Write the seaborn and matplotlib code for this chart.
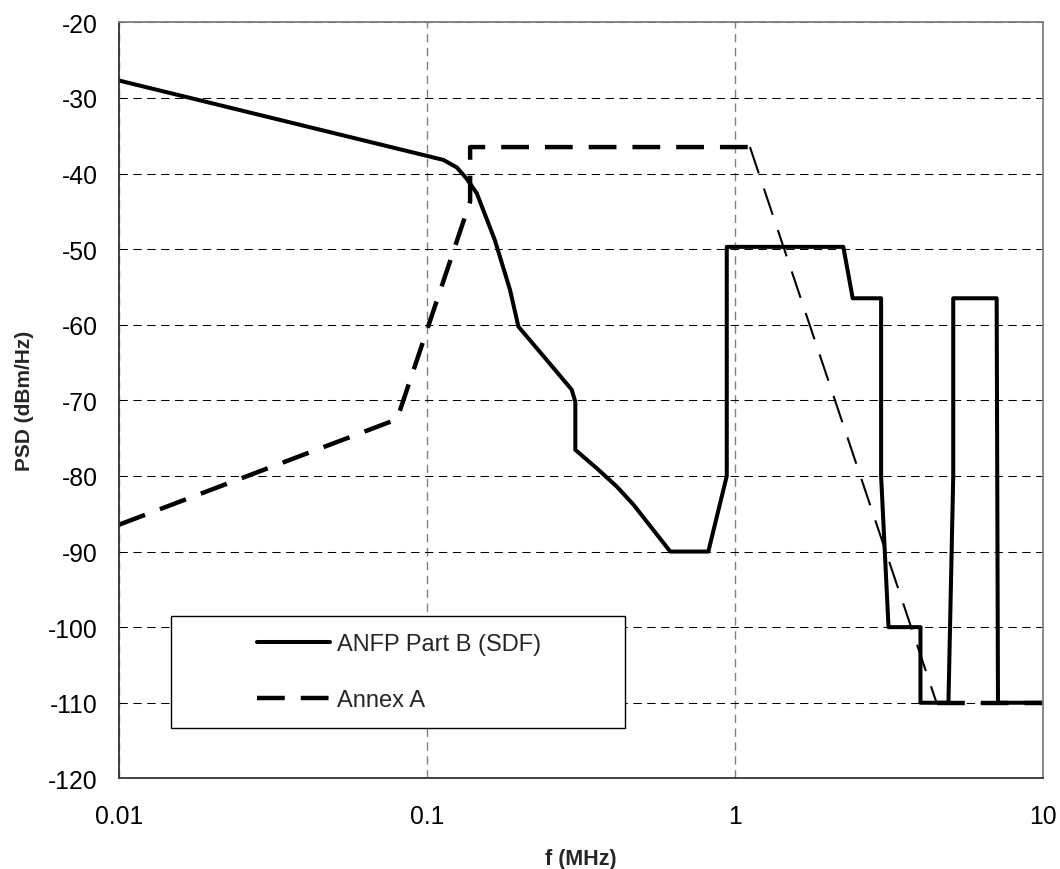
import matplotlib
matplotlib.use("Agg")
import matplotlib.pyplot as plt
from matplotlib.patches import Rectangle
from matplotlib.lines import Line2D
import seaborn as sns

# ANFP Part B (SDF) mask
anfp_f = [0.01, 0.113, 0.125, 0.1346, 0.145, 0.166, 0.186, 0.198, 0.2416, 0.295,
          0.303, 0.303, 0.356, 0.413, 0.468, 0.616, 0.819, 0.94, 0.94, 2.247,
          2.41, 2.98, 2.98, 3.15, 4.0, 4.0, 4.93, 5.11, 5.11, 7.07, 7.14, 10]
anfp_psd = [-27.7, -38.2, -39.2, -40.7, -42.6, -48.8, -55.4, -60.25, -64.4, -68.6,
            -70.2, -76.55, -79.0, -81.4, -83.8, -90, -90, -80, -49.7, -49.7,
            -56.5, -56.5, -80, -100, -100, -110, -110, -80, -56.5, -56.5, -110, -110]

# Annex A mask
annex_f = [0.01, 0.0799, 0.138, 0.138, 1.118, 4.51, 10]
annex_psd = [-86.45, -72.5, -43.7, -36.5, -36.5, -110, -110]

x_ticks = [0.01, 0.1, 1, 10]
x_tick_labels = ["0.01", "0.1", "1", "10"]
y_ticks = list(range(-120, -19, 10))

sns.set_style("white")
plt.rcParams['font.family'] = ['Liberation Sans', 'DejaVu Sans']
plt.rcParams['lines.scale_dashes'] = False
plt.rcParams['axes.unicode_minus'] = False

fig = plt.figure(figsize=(10.6, 8.7), dpi=100)
ax = fig.add_axes([0.1123, 0.1042, 0.8717, 0.869])

dash = (0, (20, 11.5))

sns.lineplot(x=anfp_f, y=anfp_psd, ax=ax, color="black", linewidth=2.9,
             sort=False, estimator=None)
# Annex A: thick except the falling edge, which the original renders thin
sns.lineplot(x=annex_f[:5], y=annex_psd[:5], ax=ax, color="black", linewidth=3.2,
             sort=False, estimator=None, linestyle=dash)
sns.lineplot(x=annex_f[4:6], y=annex_psd[4:6], ax=ax, color="black", linewidth=1.5,
             sort=False, estimator=None, linestyle=dash)
sns.lineplot(x=annex_f[5:], y=annex_psd[5:], ax=ax, color="black", linewidth=3.2,
             sort=False, estimator=None, linestyle=(0, (20, 11.5)))

ax.set_xscale("log")
ax.set_xlim(0.01, 10)
ax.set_ylim(-120, -20)
ax.set_xticks(x_ticks)
ax.set_xticklabels(x_tick_labels)
ax.minorticks_off()
ax.set_yticks(y_ticks)

ax.tick_params(axis="both", direction="out", length=6.5, width=1, color="#555555",
               labelsize=17.8, labelcolor="black", pad=9)
ax.tick_params(axis="x", pad=12)

ax.set_axisbelow(True)
ax.yaxis.grid(True, color="black", linestyle=(0, (6, 4)), linewidth=0.75)
ax.xaxis.grid(True, color="#808080", linestyle=(0, (6, 4)), linewidth=1.0)

for side in ["left", "bottom"]:
    ax.spines[side].set_color("#333333")
    ax.spines[side].set_linewidth(1.3)
for side in ["top", "right"]:
    ax.spines[side].set_color("#808080")
    ax.spines[side].set_linewidth(1.3)

ax.set_xlabel("f (MHz)", fontsize=15.5, fontweight="bold")
ax.set_ylabel("PSD (dBm/Hz)", fontsize=15, fontweight="bold")
ax.xaxis.set_label_coords(0.5, -0.092)
ax.yaxis.set_label_coords(-0.092, 0.5)

# legend box drawn as a plain rectangle like the original
ax.add_patch(Rectangle((0.056, 0.0665), 0.492, 0.148, transform=ax.transAxes,
                       facecolor="white", edgecolor="black", linewidth=1.0, zorder=1.5))
handles = [Line2D([], [], color="black", linewidth=2.9),
           Line2D([], [], color="black", linewidth=3.2, linestyle=dash)]
ax.legend(handles, ["ANFP Part B (SDF)", "Annex A"], loc="center left",
          bbox_to_anchor=(0.149, 0.1405), frameon=False, fontsize=17,
          handlelength=3.1, handletextpad=0.3, labelspacing=1.45,
          borderpad=0, borderaxespad=0)

plt.savefig("out.png", dpi=100)
